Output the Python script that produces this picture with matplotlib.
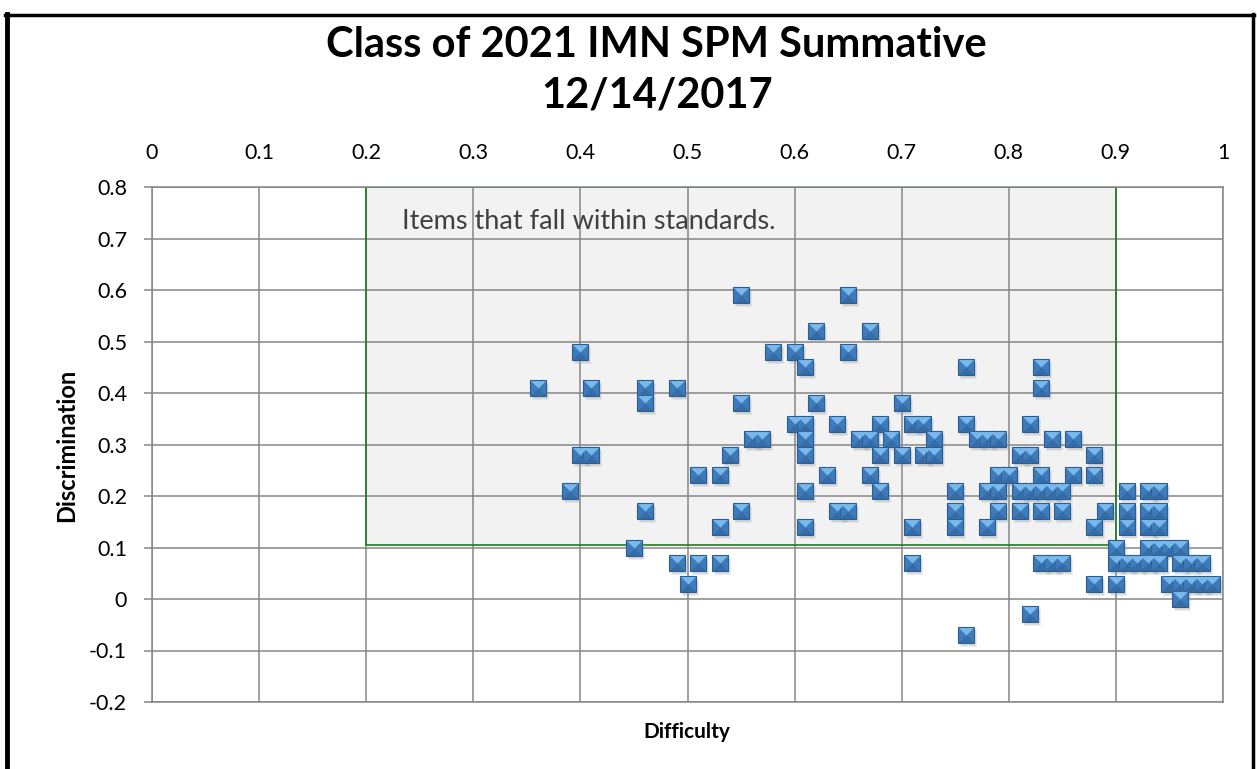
import matplotlib
matplotlib.use("Agg")
import matplotlib.pyplot as plt
import matplotlib.transforms as mtransforms
from matplotlib.lines import Line2D
from matplotlib.patches import Rectangle

# item difficulty / discrimination pairs
difficulty = [
    0.36, 0.39, 0.40, 0.40, 0.41, 0.41, 0.45, 0.46, 0.46, 0.46,
    0.49, 0.49, 0.50, 0.51, 0.51, 0.53, 0.53, 0.53, 0.54, 0.55,
    0.55, 0.55, 0.56, 0.57, 0.58, 0.60, 0.60, 0.61, 0.61, 0.61,
    0.61, 0.61, 0.61, 0.62, 0.62, 0.63, 0.64, 0.64, 0.65, 0.65,
    0.65, 0.66, 0.67, 0.67, 0.67, 0.68, 0.68, 0.68, 0.69, 0.70,
    0.70, 0.71, 0.71, 0.71, 0.72, 0.72, 0.73, 0.73, 0.75, 0.75,
    0.75, 0.76, 0.76, 0.76, 0.77, 0.78, 0.78, 0.78, 0.79, 0.79,
    0.79, 0.79, 0.80, 0.81, 0.81, 0.81, 0.82, 0.82, 0.82, 0.82,
    0.83, 0.83, 0.83, 0.83, 0.83, 0.83, 0.84, 0.84, 0.84, 0.85,
    0.85, 0.85, 0.86, 0.86, 0.88, 0.88, 0.88, 0.88, 0.89, 0.90,
    0.90, 0.90, 0.91, 0.91, 0.91, 0.91, 0.92, 0.93, 0.93, 0.93,
    0.93, 0.93, 0.94, 0.94, 0.94, 0.94, 0.94, 0.95, 0.95, 0.96,
    0.96, 0.96, 0.96, 0.97, 0.97, 0.98, 0.98, 0.99,
]
discrimination = [
    0.41, 0.21, 0.48, 0.28, 0.41, 0.28, 0.10, 0.41, 0.38, 0.17,
    0.41, 0.07, 0.03, 0.24, 0.07, 0.24, 0.14, 0.07, 0.28, 0.59,
    0.38, 0.17, 0.31, 0.31, 0.48, 0.48, 0.34, 0.45, 0.34, 0.31,
    0.28, 0.21, 0.14, 0.52, 0.38, 0.24, 0.34, 0.17, 0.59, 0.48,
    0.17, 0.31, 0.52, 0.31, 0.24, 0.34, 0.28, 0.21, 0.31, 0.38,
    0.28, 0.34, 0.14, 0.07, 0.34, 0.28, 0.31, 0.28, 0.21, 0.17,
    0.14, 0.45, 0.34, -0.07, 0.31, 0.31, 0.21, 0.14, 0.31, 0.24,
    0.21, 0.17, 0.24, 0.28, 0.21, 0.17, 0.34, 0.28, 0.21, -0.03,
    0.45, 0.41, 0.24, 0.21, 0.17, 0.07, 0.31, 0.21, 0.07, 0.21,
    0.17, 0.07, 0.31, 0.24, 0.28, 0.24, 0.14, 0.03, 0.17, 0.10,
    0.07, 0.03, 0.21, 0.17, 0.14, 0.07, 0.07, 0.21, 0.17, 0.14,
    0.10, 0.07, 0.21, 0.17, 0.14, 0.10, 0.07, 0.10, 0.03, 0.10,
    0.07, 0.03, 0.00, 0.07, 0.03, 0.07, 0.03, 0.03,
]

x_ticks = [0, 0.1, 0.2, 0.3, 0.4, 0.5, 0.6, 0.7, 0.8, 0.9, 1]
y_ticks = [-0.2, -0.1, 0, 0.1, 0.2, 0.3, 0.4, 0.5, 0.6, 0.7, 0.8]
standard_box = (0.2, 0.105, 0.9, 0.8)  # x0, y0, x1, y1

plt.rcParams['font.family'] = ['Lato', 'DejaVu Sans']

fig = plt.figure(figsize=(12.57, 7.69), dpi=100)
ax = fig.add_axes([152 / 1257, 1 - 702 / 769, 1071 / 1257, 515 / 769])

ax.set_xlim(0, 1)
ax.set_ylim(-0.2, 0.8)
ax.set_xticks(x_ticks)
ax.set_yticks(y_ticks)
ax.set_xticklabels([f'{t:g}' for t in x_ticks])
ax.set_yticklabels([f'{t:g}' for t in y_ticks])
ax.xaxis.tick_top()
ax.tick_params(axis='x', length=0, pad=17, labelsize=15.5)
ax.tick_params(axis='y', length=6, width=1.1, color='#868686', pad=12, labelsize=15.5)
ax.grid(True, color='#868686', linewidth=1.1)
ax.set_axisbelow(True)
for s in ax.spines.values():
    s.set_color('#868686')
    s.set_linewidth(1.1)

x0, y0, x1, y1 = standard_box
ax.add_patch(Rectangle((x0, y0), x1 - x0, y1 - y0, facecolor='#F2F2F2',
                       edgecolor='none', zorder=0.2))
ax.add_patch(Rectangle((x0, y0), x1 - x0, y1 - y0, facecolor='none',
                       edgecolor='#1E7B1E', linewidth=1.2, zorder=1))
ax.text(0.2335, 0.733, 'Items that fall within standards.', fontsize=19.5,
        color='#404040', va='center', ha='left', zorder=2)

# bevelled square markers: shadow, body, top and bottom facets
ms = 11.5
shadow = mtransforms.offset_copy(ax.transData, fig=fig, x=2, y=-3, units='dots')
ax.plot(difficulty, discrimination, 's', ms=ms, color='#9A9A9A', alpha=0.35,
        mec='none', transform=shadow, zorder=3)
ax.plot(difficulty, discrimination, 's', ms=ms, color='#3E7BBB',
        mec='#2B5D92', mew=0.8, zorder=4)
ax.plot(difficulty, discrimination, ls='none', marker=[(-1, -1), (1, -1), (0, 0)],
        ms=ms * 0.93, color='#356CA6', mec='none', zorder=5)
ax.plot(difficulty, discrimination, ls='none', marker=[(-1, 1), (1, 1), (0, 0)],
        ms=ms * 0.93, color='#79B8EA', mec='none', zorder=5)

fig.text(0.5225, 1 - 45 / 769, 'Class of 2021 IMN SPM Summative', fontsize=30,
         fontweight='bold', ha='center', va='center')
fig.text(0.5225, 1 - 95 / 769, '12/14/2017', fontsize=30,
         fontweight='bold', ha='center', va='center')
fig.text(67 / 1257, 1 - 445 / 769, 'Discrimination', fontsize=17,
         fontweight='bold', rotation=90, ha='center', va='center')
fig.text(687 / 1257, 1 - 732 / 769, 'Difficulty', fontsize=15,
         fontweight='bold', ha='center', va='center')

# black frame around the chart area
fig.add_artist(Line2D([7 / 1257, 7 / 1257], [0, 1 - 14 / 769], color='black',
                      linewidth=3.5, transform=fig.transFigure))
fig.add_artist(Line2D([5 / 1257, 1254 / 1257], [1 - 15 / 769, 1 - 15 / 769],
                      color='black', linewidth=2.5, transform=fig.transFigure))
fig.add_artist(Line2D([1253 / 1257, 1253 / 1257], [0, 1 - 14 / 769], color='black',
                      linewidth=2.5, transform=fig.transFigure))

plt.savefig('out.png', dpi=100)
plt.close()
